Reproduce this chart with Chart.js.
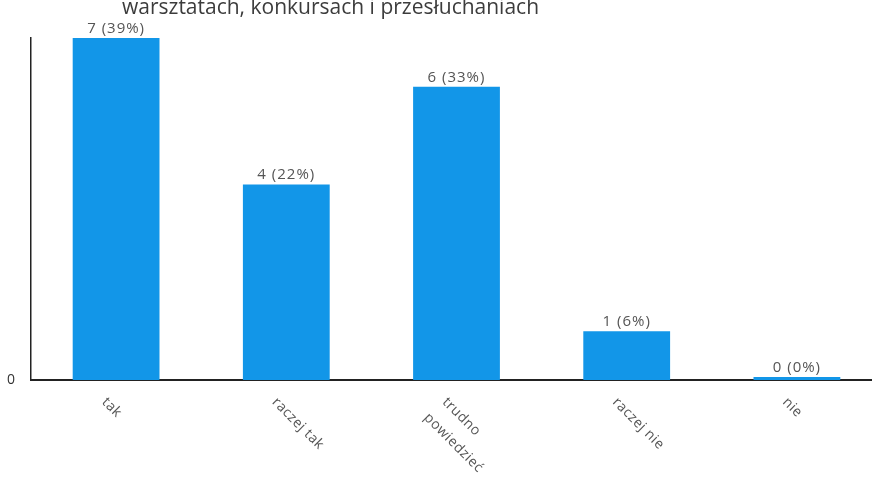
<!DOCTYPE html>
<html>
<head>
<meta charset="utf-8">
<script src="https://cdn.jsdelivr.net/npm/chart.js@4"></script>
<style>
    html, body { margin: 0; padding: 0; background: #fff; overflow: hidden; }
    #wrap { position: relative; width: 882px; height: 477px; }
</style>
</head>
<body>
<div id="wrap"><canvas id="chart"></canvas></div>
<script>
// answers (x axis categories, line breaks as in the form)
const categories = [['tak'], ['raczej tak'], ['trudno', 'powiedzieć'], ['raczej nie'], ['nie']];
// number of responses per answer
const counts = [7, 4, 6, 1, 0];
// only tick shown on the y axis
const yTicks = [0];
const titleText = 'warsztatach, konkursach i przesłuchaniach';

const total = counts.reduce(function (a, b) { return a + b; }, 0);

// labels above bars, rotated category labels and the clipped title
const extraText = {
    id: 'extraText',
    afterDraw: function (chart) {
        const ctx = chart.ctx;
        const x = chart.scales.x;
        const meta = chart.getDatasetMeta(0);
        ctx.save();

        // title (first line is cut off in the scan)
        ctx.fillStyle = '#3c3c3c';
        ctx.font = '21px "Open Sans"';
        ctx.textAlign = 'left';
        ctx.textBaseline = 'alphabetic';
        ctx.fillText(titleText, 122, 14);

        // value labels
        ctx.font = '15px "Open Sans"';
        ctx.letterSpacing = '1px';
        ctx.fillStyle = '#555';
        ctx.textAlign = 'center';
        ctx.textBaseline = 'bottom';
        meta.data.forEach(function (bar, i) {
            let pct = Math.round(counts[i] / total * 100);
            ctx.fillText(counts[i] + ' (' + pct + '%)', bar.x, bar.y - 2);
        });

        // category labels, rotated 45deg clockwise
        ctx.font = '14px "Open Sans"';
        ctx.letterSpacing = '0.5px';
        ctx.fillStyle = '#555';
        ctx.textAlign = 'left';
        ctx.textBaseline = 'middle';
        categories.forEach(function (lines, i) {
            let px = x.getPixelForValue(i);
            ctx.save();
            ctx.translate(px - 12, x.top + 20);
            ctx.rotate(Math.PI / 4);
            lines.forEach(function (line, j) {
                ctx.fillText(line, -2 * j, 24 * j);
            });
            ctx.restore();
        });

        ctx.restore();
    }
};

const ctx = document.getElementById('chart').getContext('2d');
const myChart = new Chart(ctx, {
    type: 'bar',
    data: {
        labels: categories.map(function (c) { return c.join(' '); }),
        datasets: [{
            data: counts,
            backgroundColor: '#1296e8',
            borderWidth: 0,
            minBarLength: 3,
            categoryPercentage: 1,
            barPercentage: 0.51
        }]
    },
    options: {
        responsive: true,
        maintainAspectRatio: false,
        animation: false,
        layout: { padding: { top: 38, left: 0, right: 0, bottom: 0 } },
        plugins: {
            legend: { display: false },
            tooltip: { enabled: false }
        },
        scales: {
            x: {
                grid: { display: false },
                border: { display: true, color: '#222', width: 2 },
                ticks: { display: false },
                afterFit: function (s) { s.height = 97; }
            },
            y: {
                min: 0,
                max: 7,
                grid: { display: false },
                border: { display: true, color: '#222', width: 1.5 },
                afterBuildTicks: function (s) {
                    s.ticks = yTicks.map(function (v) { return { value: v }; });
                },
                ticks: {
                    color: '#333',
                    font: { family: 'Open Sans', size: 14 },
                    padding: 8
                },
                afterFit: function (s) { s.width = 31; }
            }
        }
    },
    plugins: [extraText]
});
</script>
</body>
</html>
